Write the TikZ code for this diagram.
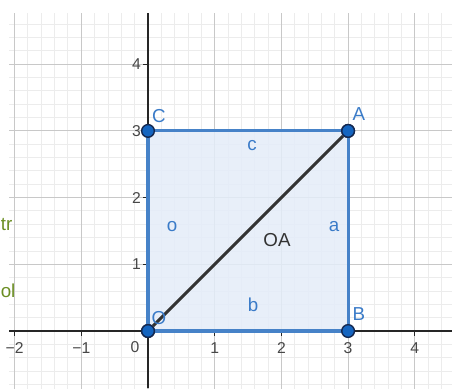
\documentclass[tikz,border=0pt]{standalone}
\usepackage{fontspec}
\setmainfont{Liberation Sans}
\definecolor{ptfill}{RGB}{21,101,192}
\definecolor{ptdraw}{RGB}{20,40,80}
\definecolor{edge}{RGB}{70,130,200}
\definecolor{polyfill}{RGB}{228,237,249}
\definecolor{lblue}{RGB}{58,123,200}
\definecolor{segc}{RGB}{51,51,51}
\definecolor{olivetxt}{RGB}{107,142,35}
\definecolor{gmajor}{RGB}{200,200,200}
\definecolor{gminor}{RGB}{236,236,236}
\begin{document}
\begin{tikzpicture}[x=1cm,y=1cm,
  pt/.style={circle,fill=ptfill,draw=ptdraw,line width=0.6pt,minimum size=0.19cm,inner sep=0pt},
  edgeline/.style={draw=edge,line width=1.3pt},
  seglbl/.style={text=lblue,font=\fontsize{8}{9}\selectfont,inner sep=0pt},
  ptlbl/.style={text=lblue,font=\fontsize{8}{9}\selectfont,inner sep=0pt},
  ticklbl/.style={text=black!72,font=\fontsize{6.7}{7.5}\selectfont,inner sep=0pt},
  sidelbl/.style={text=olivetxt,font=\fontsize{8}{9}\selectfont,inner sep=0pt,anchor=west}]
\useasboundingbox[fill=white] (-2.219,-0.855) rectangle (4.558,4.963);
\begin{scope}
\clip (-2.084,-0.855) rectangle (4.558,4.768);
\draw[gminor,line width=0.4pt,step=0.2] (-2.4,-1) grid (4.8,5);
\draw[gmajor,line width=0.45pt,step=1] (-3,-1) grid (5,5);
\end{scope}
% polygon
\coordinate (Op) at (0,0);
\coordinate (Bp) at (3,0);
\coordinate (Ap) at (3,3);
\coordinate (Cp) at (0,3);
\fill[polyfill,opacity=0.85] (Op) -- (Bp) -- (Ap) -- (Cp) -- cycle;
% axes
\coordinate (xl) at (-2.084,0);
\coordinate (xr) at (4.558,0);
\coordinate (yb) at (0,-0.855);
\coordinate (yt) at (0,4.768);
\draw[black!85,line width=0.5pt] (xl) -- (xr);
\draw[black!85,line width=0.5pt] (yb) -- (yt);
\foreach \i in {-2,-1,1,2,3,4} \draw[black!85,line width=0.45pt] (\i,0) -- (\i,-0.07);
\foreach \i in {1,2,3,4} \draw[black!85,line width=0.45pt] (0,\i) -- (-0.07,\i);
\foreach \i in {-2,-1,1,2,3,4} \node[ticklbl] (tx\i) at (\i,-0.255) {\ifnum\i<0 −\the\numexpr-\i\relax\else\i\fi};
\foreach \i in {1,2,3,4} \node[ticklbl,anchor=east] (ty\i) at (-0.1,\i) {\i};
\node[ticklbl] (t0) at (-0.195,-0.24) {0};
% edges
\draw[edgeline] (Op) -- (Bp);
\draw[edgeline] (Bp) -- (Ap);
\draw[edgeline] (Ap) -- (Cp);
\draw[edgeline] (Cp) -- (Op);
% points
\node[pt] (O) at (Op) {};
\node[pt] (B) at (Bp) {};
\node[pt] (A) at (Ap) {};
\node[pt] (C) at (Cp) {};
\draw[segc,line width=1.3pt] (O) -- (A);
\node[pt] at (Op) {};
\node[pt] at (Ap) {};
% labels
\node[ptlbl] (lO) at (0.165,0.2) {O};
\node[ptlbl] (lB) at (3.163,0.255) {B};
\node[ptlbl] (lA) at (3.163,3.253) {A};
\node[ptlbl] (lC) at (0.165,3.223) {C};
\node[seglbl] (lc) at (1.559,2.78) {c};
\node[seglbl] (lo) at (0.36,1.57) {o};
\node[seglbl] (la) at (2.789,1.57) {a};
\node[seglbl] (lb) at (1.574,0.4) {b};
\node[seglbl,text=segc] (lOA) at (1.934,1.364) {OA};
\node[sidelbl] (s1) at (-2.214,1.6) {tr};
\node[sidelbl] (s2) at (-2.214,0.6) {ol};
\end{tikzpicture}
\end{document}
